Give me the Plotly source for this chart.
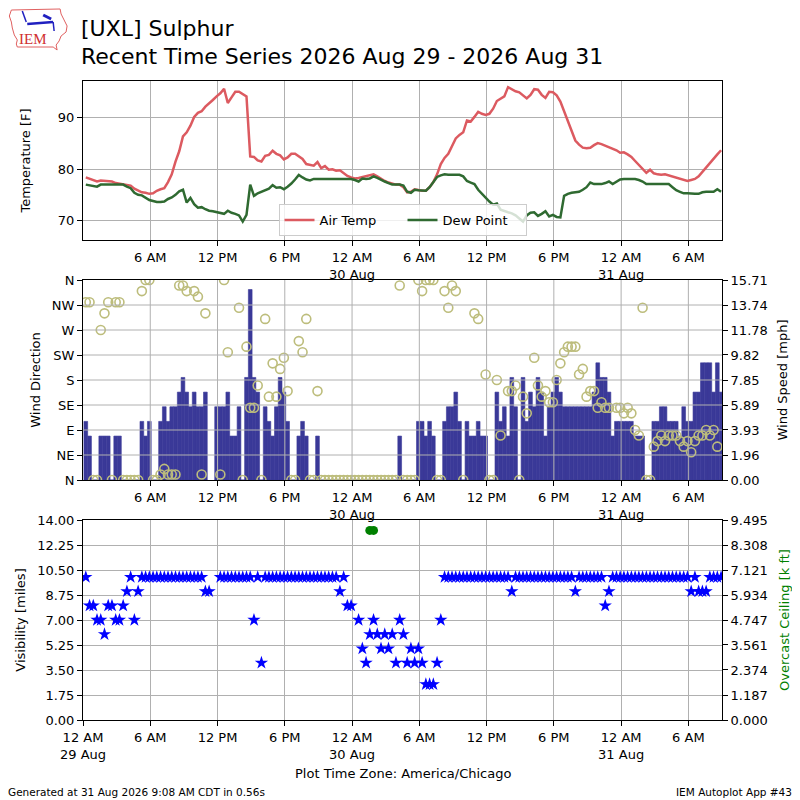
import pandas as pd
import plotly.graph_objects as go

# obs every 20 minutes, first one at 00:15
obs_start = "2026-08-29 00:15"
obs_count = 171

# air temperature [F]
tmpf = [78.4, 78.1, 77.8, 77.6, 77.8, 77.7, 77.6, 77.6, 77.3, 77.2,
        77.1, 77.0, 76.8, 76.2, 75.8, 75.5, 75.4, 75.2, 75.3, 75.8,
        76.1, 76.3, 77.5, 79.0, 81.5, 83.5, 86.4, 87.2, 88.5, 90.2,
        91.0, 91.3, 92.2, 92.8, 93.5, 94.2, 94.8, 95.7, 92.9, 94.0,
        95.1, 95.1, 94.6, 94.2, 82.5, 82.4, 81.7, 81.5, 82.6, 82.8,
        83.6, 83.0, 82.7, 81.9, 82.3, 83.0, 83.0, 82.5, 82.0, 81.0,
        80.9, 80.7, 81.4, 80.2, 80.6, 79.9, 80.0, 79.7, 79.8, 79.2,
        78.7, 78.4, 78.2, 78.3, 78.5, 78.6, 78.8, 79.0, 78.6, 78.1,
        77.7, 77.4, 77.2, 77.0, 77.0, 76.5, 75.5, 75.6, 76.1, 75.9,
        75.8, 75.8, 76.5, 77.5, 79.0, 81.0, 82.2, 83.0, 84.6, 86.0,
        86.7, 87.2, 89.5, 89.3, 90.2, 91.2, 90.8, 90.6, 90.8, 91.8,
        93.3, 93.7, 94.2, 96.0, 95.6, 95.2, 95.0, 94.4, 93.8, 94.5,
        95.6, 95.5, 94.5, 93.9, 95.1, 95.0, 94.4, 93.2, 91.3, 89.0,
        87.3, 85.6, 84.8, 84.2, 84.1, 84.2, 84.7, 85.1, 84.9, 84.6,
        84.4, 84.0, 83.7, 83.2, 83.3, 82.9, 82.4, 81.6, 80.9, 80.2,
        79.3, 79.9, 79.2, 79.0, 78.9, 79.0, 78.8, 78.6, 78.4, 78.1,
        77.9, 77.7, 77.9, 78.1, 78.6, 79.5, 80.2, 81.2, 82.0, 82.9,
        83.7]

# dew point [F]
dwpf = [77.0, 76.9, 76.8, 76.6, 77.0, 77.0, 77.0, 77.0, 77.0, 77.0,
        77.0, 76.6, 76.3, 75.4, 75.0, 74.9, 74.5, 74.0, 73.8, 73.6,
        73.6, 73.7, 74.2, 74.5, 75.0, 75.7, 76.0, 73.5, 74.4, 73.2,
        72.5, 72.6, 72.2, 71.9, 71.8, 71.6, 71.5, 71.3, 71.9, 71.5,
        71.3, 71.0, 69.8, 71.1, 77.0, 74.8, 75.3, 75.6, 75.9, 76.2,
        76.9, 76.4, 76.5, 76.1, 76.6, 77.2, 78.0, 78.9, 78.4, 78.0,
        77.8, 78.1, 78.1, 78.1, 78.1, 78.1, 78.1, 78.1, 78.1, 78.1,
        78.1, 78.1, 77.9, 77.6, 78.2, 78.1, 78.2, 78.6, 78.3, 77.9,
        77.6, 77.3, 77.0, 77.0, 77.0, 76.8, 75.6, 75.4, 76.0, 75.9,
        75.8, 75.8, 76.5, 77.5, 78.5, 78.8, 79.0, 78.9, 78.9, 79.0,
        78.9, 78.6, 77.7, 77.4, 77.1, 76.0, 75.2, 74.3, 73.7, 73.1,
        73.3, 72.1, 71.8, 71.6, 71.4, 71.0, 70.4, 69.8, 71.0, 71.5,
        71.6, 70.9, 71.3, 71.8, 70.8, 71.1, 70.7, 70.6, 74.8, 75.2,
        75.4, 75.5, 75.6, 76.0, 76.5, 77.4, 77.1, 77.1, 77.1, 77.3,
        77.6, 77.1, 77.6, 78.0, 78.1, 78.1, 78.1, 78.1, 77.9, 77.6,
        77.1, 77.1, 77.1, 77.1, 77.1, 77.1, 77.1, 76.5, 75.9, 75.6,
        75.3, 75.3, 75.2, 75.2, 75.2, 75.5, 75.6, 75.6, 75.6, 76.1,
        75.6]

# wind speed [knots], None = missing
sknt = [4, 3, 0, 0, 3, 3, 3, 0, 3, 3,
        0, 0, 0, 0, 0, 4, 3, 4, 0, 0,
        4, 5, 4, 5, 5, 6, 7, 6, 5, 6,
        5, 5, 6, None, None, 5, 5, 5, 6, 3,
        3, 5, 0, 7, 13, 7, 6, 0, 5, 4,
        3, 5, 7, 6, 4, 0, 0, 3, 4, 3,
        0, 0, 3, 0, 0, 0, 0, 0, 0, 0,
        0, 0, 0, 0, 0, 0, 0, 0, 0, 0,
        0, 0, 0, 0, 3, 0, 0, 0, 0, 4,
        4, 3, 4, 3, 0, 0, 4, 5, 5, 6,
        4, 0, 4, 3, 3, 4, 3, 3, 0, 0,
        6, 4, 5, 3, 7, 5, 0, 7, 4, 6,
        5, 7, 6, 3, 5, 6, 7, 6, 5, 5,
        5, 5, 5, 5, 5, 5, 6, 8, 7, 7,
        6, 3, 4, 4, 4, 4, 4, 3, 3, 3,
        0, 0, 4, 4, 5, 5, 4, 4, 4, 3,
        5, 4, 4, 6, 6, 8, 8, 8, 6, 8,
        6]

# wind direction [deg], None = missing / variable
drct = [320, 320, 0, 0, 270, 300, 320, 0, 320, 320,
        0, 0, 0, 0, 0, 340, 360, 360, 0, 0,
        10, 20, 10, 10, 10, 350, 350, 340, None, 340,
        330, 10, 300, None, None, None, 10, 360, 230, None,
        None, 310, 0, 240, 130, 130, 170, 0, 290, 150,
        210, 150, 200, 220, 160, 0, 0, 250, 230, 290,
        0, 0, 160, 0, 0, 0, 0, 0, 0, 0,
        0, 0, 0, 0, 0, 0, 0, 0, 0, 0,
        0, 0, 0, 0, 350, 0, 0, 0, 0, 360,
        340, 360, 360, 360, 0, 0, 340, 310, 350, 340,
        None, 0, None, None, 300, 290, None, 190, 0, 0,
        180, 80, None, 160, 160, 170, 0, 150, 120, None,
        220, 170, 150, 160, 140, 140, 180, 210, 230, 240,
        240, 240, 190, 200, 150, 160, 160, 130, 140, 130,
        130, None, 130, 130, 120, 130, 120, 90, 80, 310,
        0, 0, 60, 70, 80, 70, 80, 80, 80, 70,
        60, 70, 50, 70, 80, 80, 90, 80, 90, 60,
        None]

# visibility [miles]
vsby = [10, 8, 8, 7, 7, 6, 8, 8, 7, 7,
        8, 9, 10, 7, 9, 10, 10, 10, 10, 10,
        10, 10, 10, 10, 10, 10, 10, 10, 10, 10,
        10, 10, 9, 9, None, None, 10, 10, 10, 10,
        10, 10, 10, 10, 10, 7, 10, 4, 10, 10,
        10, 10, 10, 10, 10, 10, 10, 10, 10, 10,
        10, 10, 10, 10, 10, 10, 10, 10, 9, 10,
        8, 8, None, 7, 5, 4, 6, 7, 6, 5,
        6, 5, 6, 4, 7, 6, 4, 5, 4, 5,
        4, 2.5, 2.5, 2.5, 4, 7, 10, 10, 10, 10,
        10, 10, 10, 10, 10, 10, 10, 10, 10, 10,
        10, 10, 10, 10, 9, 10, 10, 10, 10, 10,
        10, 10, 10, 10, 10, 10, 10, 10, 10, 10,
        10, 9, 10, 10, 10, 10, 10, 10, 10, 8,
        9, 10, 10, 10, 10, 10, 10, 10, 10, 10,
        10, 10, 10, 10, 10, 10, 10, 10, 10, 10,
        10, 10, 9, 10, 9, 9, 9, 10, 10, 10,
        10]

# overcast ceiling [k ft], only two reports
ceil_times = ["2026-08-30 01:35", "2026-08-30 01:55"]
ceil_kft = [9.0, 9.0]

tick_times = ["2026-08-29 00:00", "2026-08-29 06:00", "2026-08-29 12:00",
              "2026-08-29 18:00", "2026-08-30 00:00", "2026-08-30 06:00",
              "2026-08-30 12:00", "2026-08-30 18:00", "2026-08-31 00:00",
              "2026-08-31 06:00"]
tick_text = ["12 AM<br>29 Aug", "6 AM", "12 PM", "6 PM", "12 AM<br>30 Aug",
             "6 AM", "12 PM", "6 PM", "12 AM<br>31 Aug", "6 AM"]

temp_ticks = [70, 80, 90]
dir_ticks = [0, 45, 90, 135, 180, 225, 270, 315, 360]
dir_labels = ["N", "NE", "E", "SE", "S", "SW", "W", "NW", "N"]
speed_ticks = [0.00, 1.96, 3.93, 5.89, 7.85, 9.82, 11.78, 13.74, 15.71]
vis_ticks = [0.00, 1.75, 3.50, 5.25, 7.00, 8.75, 10.50, 12.25, 14.00]
ceil_ticks = [0.000, 1.187, 2.374, 3.561, 4.747, 5.934, 7.121, 8.308, 9.495]

times = pd.date_range(obs_start, periods=obs_count, freq="20min")
smph = [None if v is None else v * 1.1508 for v in sknt]

FONT = "DejaVu Sans"
GRID = "#b0b0b0"
BAR = "#3a3998"

# the page puts the figure 8px in from the corner, so shift everything back
OFF = 8
# plot area in reference pixels
L, R, T, B = 80, 722, 81, 720


def px(x):
    return (x - L) / (R - L)


def py(y):
    return (B - y) / (B - T)


fig = go.Figure()

fig.add_trace(go.Scatter(x=times, y=tmpf, name="Air Temp", mode="lines",
                         line=dict(color="#dc5a60", width=2.5),
                         xaxis="x", yaxis="y"))
fig.add_trace(go.Scatter(x=times, y=dwpf, name="Dew Point", mode="lines",
                         line=dict(color="#2f6a31", width=2.5),
                         xaxis="x", yaxis="y"))

fig.add_trace(go.Bar(x=times, y=smph, width=20 * 60 * 1000,
                     marker=dict(color=BAR, line=dict(width=0.6, color=BAR)),
                     showlegend=False, xaxis="x2", yaxis="y2"))
fig.add_trace(go.Scatter(x=times, y=drct, mode="markers",
                         marker=dict(symbol="circle-open", size=9, color="#bdbd7c",
                                     line=dict(width=1.6)),
                         showlegend=False, xaxis="x2", yaxis="y3"))

fig.add_trace(go.Scatter(x=times, y=vsby, mode="markers",
                         marker=dict(symbol="star", size=10, color="#0000ff",
                                     line=dict(width=0)),
                         showlegend=False, xaxis="x3", yaxis="y4"))
fig.add_trace(go.Scatter(x=ceil_times, y=ceil_kft, mode="markers",
                         marker=dict(symbol="circle", size=9, color="#008000"),
                         showlegend=False, xaxis="x3", yaxis="y5"))

x_range = ["2026-08-29 00:00", "2026-08-31 09:00"]
top_dom = [py(240), 1.0]
mid_dom = [py(480), py(280)]
bot_dom = [0.0, py(520)]

axis_common = dict(showline=True, linecolor="black", linewidth=1,
                   ticks="outside", ticklen=5, tickcolor="black",
                   tickfont=dict(family=FONT, size=13, color="black"),
                   zeroline=False)

xa = dict(axis_common, type="date", range=x_range, mirror=True,
          gridcolor=GRID, showgrid=True)

grid_shapes = []
for d in dir_ticks[1:-1]:
    grid_shapes.append(dict(type="line", xref="x2 domain", x0=0, x1=1,
                            yref="y3", y0=d, y1=d, layer="above",
                            line=dict(color=GRID, width=1)))
for t in tick_times[1:]:
    grid_shapes.append(dict(type="line", xref="x2", x0=t, x1=t,
                            yref="y2 domain", y0=0, y1=1, layer="above",
                            line=dict(color=GRID, width=1)))

# IEM logo, roughly drawn
iowa = [(8, 10), (57, 9), (58, 14), (61, 20), (64, 26), (63, 32), (58, 36),
        (56, 41), (53, 45), (54, 50), (50, 47), (14, 47), (13, 44), (14, 40),
        (11, 35), (9, 28), (8, 22), (6, 16)]
logo_path = "M " + " L ".join("%.4f %.4f" % (px(a), py(b)) for a, b in iowa) + " Z"
logo_shapes = [
    dict(type="path", path=logo_path, xref="paper", yref="paper",
         line=dict(color="#e06060", width=1)),
    dict(type="line", xref="paper", yref="paper", x0=px(24), y0=py(24),
         x1=px(50), y1=py(22), line=dict(color="#2020c0", width=2.5)),
    dict(type="line", xref="paper", yref="paper", x0=px(40), y0=py(15),
         x1=px(48), y1=py(19), line=dict(color="#2020c0", width=3)),
    dict(type="line", xref="paper", yref="paper", x0=px(19), y0=py(11),
         x1=px(23), y1=py(22), line=dict(color="#2020c0", width=1.5)),
    dict(type="line", xref="paper", yref="paper", x0=px(50), y0=py(22),
         x1=px(51), y1=py(31), line=dict(color="#2020c0", width=1.5)),
]

fig.update_layout(
    width=800, height=800,
    margin=dict(l=L - OFF, r=800 - (R - OFF), t=T - OFF, b=800 - (B - OFF)),
    paper_bgcolor="white", plot_bgcolor="white",
    font=dict(family=FONT, size=13, color="black"),
    xaxis=dict(xa, anchor="y", tickvals=tick_times[1:], ticktext=tick_text[1:]),
    yaxis=dict(axis_common, domain=top_dom, range=[66.2, 97.2], mirror=True,
               tickvals=temp_ticks, gridcolor=GRID, showgrid=True,
               title=dict(text="Temperature [F]", font=dict(size=13), standoff=24)),
    xaxis2=dict(xa, anchor="y2", matches="x", tickvals=tick_times[1:],
                ticktext=tick_text[1:], showgrid=False),
    yaxis2=dict(axis_common, domain=mid_dom, range=[0, 15.71], side="right",
                anchor="x2", tickvals=speed_ticks,
                ticktext=["%.2f" % v for v in speed_ticks], showgrid=False,
                title=dict(text="Wind Speed [mph]", font=dict(size=13), standoff=11)),
    yaxis3=dict(axis_common, domain=mid_dom, range=[0, 360], side="left",
                overlaying="y2", anchor="x2", tickvals=dir_ticks,
                ticktext=dir_labels, showgrid=False,
                title=dict(text="Wind Direction", font=dict(size=13), standoff=8)),
    xaxis3=dict(xa, anchor="y4", matches="x", tickvals=tick_times,
                ticktext=tick_text),
    yaxis4=dict(axis_common, domain=bot_dom, range=[0, 14], anchor="x3",
                tickvals=vis_ticks, ticktext=["%.2f" % v for v in vis_ticks],
                gridcolor=GRID, showgrid=True,
                title=dict(text="Visibility [miles]", font=dict(size=13), standoff=8)),
    yaxis5=dict(axis_common, range=[0, 9.495], side="right", overlaying="y4",
                anchor="x3", tickvals=ceil_ticks,
                ticktext=["%.3f" % v for v in ceil_ticks], showgrid=False,
                title=dict(text="Overcast Ceiling [k ft]",
                           font=dict(size=13, color="#008000"), standoff=13)),
    legend=dict(orientation="h", x=0.5, xanchor="center", y=py(236),
                yanchor="bottom", bgcolor="rgba(255,255,255,0.8)",
                bordercolor="#cccccc", borderwidth=1, entrywidth=78,
                font=dict(family=FONT, size=13)),
    shapes=grid_shapes + logo_shapes,
    annotations=[
        dict(text="[UXL] Sulphur", x=px(76), y=py(29), xref="paper", yref="paper",
             xanchor="left", yanchor="middle", showarrow=False,
             font=dict(size=22)),
        dict(text="Recent Time Series 2026 Aug 29 - 2026 Aug 31", x=px(76),
             y=py(56), xref="paper", yref="paper", xanchor="left",
             yanchor="middle", showarrow=False, font=dict(size=22)),
        dict(text="IEM", x=px(30), y=py(39), xref="paper", yref="paper",
             xanchor="center", yanchor="middle", showarrow=False,
             font=dict(family="Liberation Serif", size=15, color="#d03030")),
        dict(text="Plot Time Zone: America/Chicago", x=0.5, y=py(774),
             xref="paper", yref="paper", xanchor="center", yanchor="middle",
             showarrow=False, font=dict(size=13)),
        dict(text="Generated at 31 Aug 2026 9:08 AM CDT in 0.56s", x=px(3),
             y=py(792), xref="paper", yref="paper", xanchor="left",
             yanchor="middle", showarrow=False, font=dict(size=10.5)),
        dict(text="IEM Autoplot App #43", x=px(794), y=py(792), xref="paper",
             yref="paper", xanchor="right", yanchor="middle", showarrow=False,
             font=dict(size=10.5)),
    ],
)

fig.write_html("out.html")
